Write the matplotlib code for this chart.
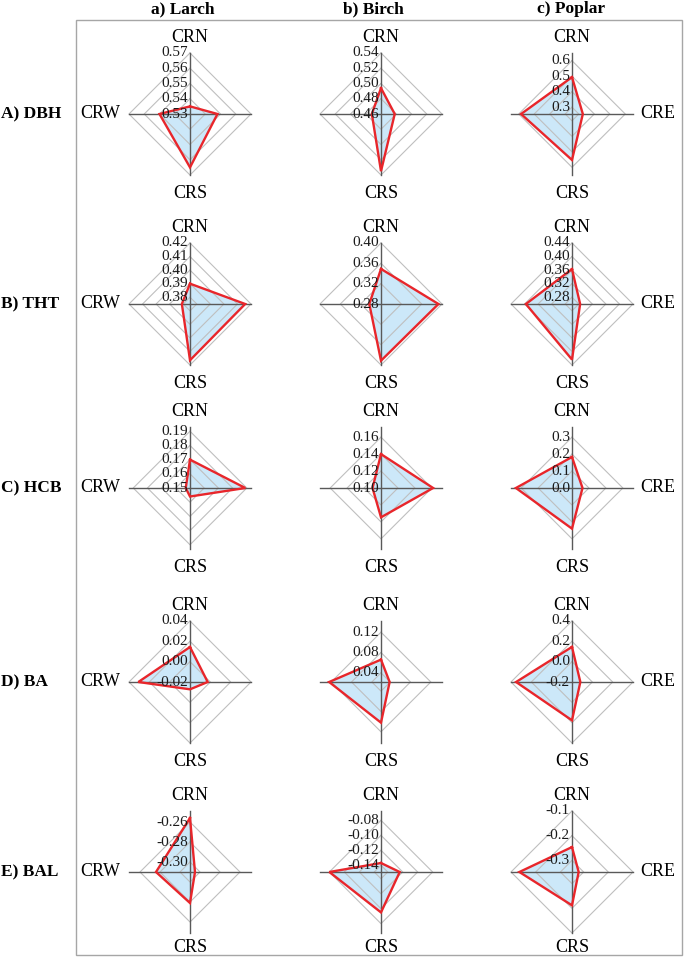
import matplotlib
matplotlib.use('Agg')
import matplotlib.pyplot as plt
from matplotlib.patches import Rectangle

plt.rcParams['font.family'] = ['Liberation Serif', 'DejaVu Serif']

species = ['a) Larch', 'b) Birch', 'c) Poplar']
variables = ['A) DBH', 'B) THT', 'C) HCB', 'D) BA', 'E) BAL']
directions = ['CRN', 'CRE', 'CRS', 'CRW']

# values per variable: one row per species, columns = CRN, CRE, CRS, CRW
dbh = [[0.535, 0.548, 0.565, 0.550],
       [0.494, 0.478, 0.535, 0.472],
       [0.494, 0.326, 0.553, 0.585]]
tht = [[0.390, 0.4157, 0.4165, 0.381],
       [0.349, 0.393, 0.3915, 0.303],
       [0.363, 0.284, 0.424, 0.396]]
hcb = [[0.170, 0.189, 0.156, 0.153],
       [0.140, 0.1615, 0.1346, 0.110],
       [0.183, 0.062, 0.240, 0.331]]
ba = [[0.0144, -0.0026, -0.0128, 0.0308],
      [0.066, 0.039, 0.102, 0.124],
      [0.145, -0.118, 0.177, 0.350]]
bal = [[-0.256, -0.305, -0.279, -0.276],
       [-0.137, -0.124, -0.095, -0.080],
       [-0.246, -0.320, -0.212, -0.134]]
values = [dbh, tht, hcb, ba, bal]

# radial axis of each panel: value at centre, value at end of axis line
r_min = [[0.53, 0.46, 0.256],
         [0.375, 0.28, 0.26],
         [0.15, 0.10, 0.0],
         [-0.02, 0.022, -0.2],
         [-0.31, -0.149, -0.347]]
r_end = [[0.57, 0.54, 0.65],
         [0.42, 0.40, 0.44],
         [0.193, 0.172, 0.36],
         [0.04, 0.142, 0.4],
         [-0.249, -0.0675, -0.1]]
ticks = [
    [[0.53, 0.54, 0.55, 0.56, 0.57], [0.46, 0.48, 0.50, 0.52, 0.54], [0.3, 0.4, 0.5, 0.6]],
    [[0.38, 0.39, 0.40, 0.41, 0.42], [0.28, 0.32, 0.36, 0.40], [0.28, 0.32, 0.36, 0.40, 0.44]],
    [[0.15, 0.16, 0.17, 0.18, 0.19], [0.10, 0.12, 0.14, 0.16], [0.0, 0.1, 0.2, 0.3]],
    [[-0.02, 0.00, 0.02, 0.04], [0.04, 0.08, 0.12], [-0.2, 0.0, 0.2, 0.4]],
    [[-0.30, -0.28, -0.26], [-0.14, -0.12, -0.10, -0.08], [-0.3, -0.2, -0.1]],
]
decimals = [[2, 2, 1], [2, 2, 2], [2, 2, 1], [2, 2, 1], [2, 2, 1]]

# layout (pixels)
W, H = 685, 957
col_x = [190, 381, 572]
row_y = [114, 304, 488, 682, 872]
title_x = [183, 373, 571]
half = 100      # half size of each panel axes
R = 61          # pixel length of an axis line

fig = plt.figure(figsize=(W / 100, H / 100), dpi=100)

# frame around the panels
fig.patches.append(Rectangle((76 / W, 1 - 955 / H), (682 - 76) / W, (955 - 20) / H,
                             transform=fig.transFigure, fill=False,
                             edgecolor='#a6a6a6', linewidth=1.0))

for j, name in enumerate(species):
    fig.text(title_x[j] / W, 1 - 9 / H, name, ha='center', va='center',
             fontsize=12.5, fontweight='bold')

for i, var in enumerate(variables):
    fig.text(1 / W, 1 - row_y[i] / H, var, ha='left', va='center',
             fontsize=12.5, fontweight='bold')

    for j in range(3):
        cx, cy = col_x[j], row_y[i]
        ax = fig.add_axes([(cx - half) / W, 1 - (cy + half) / H, 2 * half / W, 2 * half / H])
        ax.set_axis_off()

        vmin = r_min[i][j]
        span = r_end[i][j] - vmin
        s = R / span          # pixels per unit
        lim = half / s
        ax.set_xlim(-lim, lim)
        ax.set_ylim(-lim, lim)

        # fill and outline of the data
        vN, vE, vS, vW = values[i][j]
        px = [0, vE - vmin, 0, -(vW - vmin), 0]
        py = [vN - vmin, 0, -(vS - vmin), 0, vN - vmin]
        ax.fill(px, py, color='#cce8f9', zorder=1, lw=0)

        # grid diamonds
        for t in ticks[i][j]:
            d = t - vmin
            if d <= 1e-9:
                continue
            ax.plot([0, d, 0, -d, 0], [d, 0, -d, 0, d], color='#bfbfbf', lw=0.8, zorder=2)

        # axis lines
        ax.plot([-span, span], [0, 0], color='#595959', lw=1.0, zorder=3)
        ax.plot([0, 0], [-span, span], color='#595959', lw=1.0, zorder=3)

        ax.plot(px, py, color='#e8262b', lw=1.7, zorder=4, solid_joinstyle='miter')

        # radial tick labels
        fmt = '{:.%df}' % decimals[i][j]
        for t in ticks[i][j]:
            ax.text(-2 / s, t - vmin, fmt.format(t), ha='right', va='center',
                    fontsize=11, color='#1a1a1a', zorder=5)

        # direction labels
        crs_off = 76 if i == len(variables) - 1 else 79
        ax.text(0, 77 / s, 'CRN', ha='center', va='center', fontsize=13)
        ax.text(0, -crs_off / s, 'CRS', ha='center', va='center', fontsize=13)
        if j == 0:
            ax.text(-70 / s, 0, 'CRW', ha='right', va='center', fontsize=13)
        if j == 2:
            ax.text(68 / s, 0, 'CRE', ha='left', va='center', fontsize=13)

fig.savefig('out.png', dpi=100)
